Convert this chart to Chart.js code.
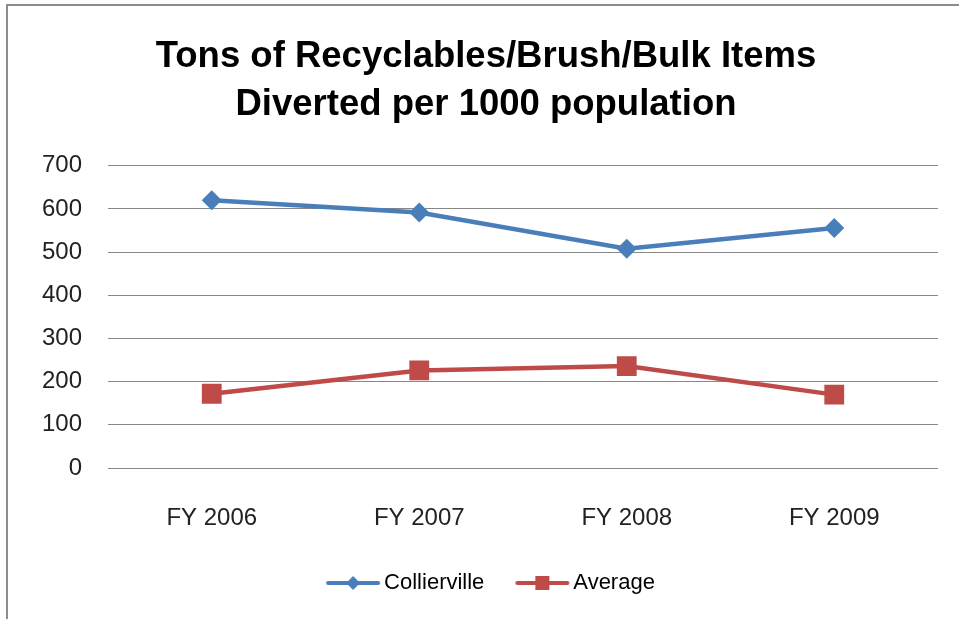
<!DOCTYPE html>
<html>
<head>
<meta charset="utf-8">
<script src="https://cdn.jsdelivr.net/npm/chart.js@4/dist/chart.umd.min.js"></script>
<style>
  html, body { margin: 0; padding: 0; background: #fff; }
  #wrap { position: relative; width: 959px; height: 619px; overflow: hidden; }
  #frame {
    position: absolute; left: 6px; top: 4px; width: 1000px; height: 700px;
    border-top: 2px solid #8c8c8c; border-left: 2px solid #8c8c8c;
    pointer-events: none;
  }
  canvas { position: absolute; left: 0; top: 0; }
</style>
</head>
<body>
<div id="wrap">
  <canvas id="chart" width="959" height="619"></canvas>
  <div id="frame"></div>
</div>
<script>
const years = ["FY 2006", "FY 2007", "FY 2008", "FY 2009"];
const collierville = [620, 592, 508, 556];
const average = [172, 226, 236, 170];
const titleLines = ["Tons of Recyclables/Brush/Bulk Items", "Diverted per 1000 population"];

const blue = '#4A7EBB';
const red = '#BE4B48';

// little legend icons: line with the marker in the middle
function legendIcon(color, shape) {
  const c = document.createElement('canvas');
  c.width = 62;
  c.height = 20;
  const ctx = c.getContext('2d');
  ctx.strokeStyle = color;
  ctx.lineWidth = 4;
  ctx.lineCap = 'round';
  ctx.beginPath();
  ctx.moveTo(6, 10);
  ctx.lineTo(56, 10);
  ctx.stroke();
  ctx.fillStyle = color;
  ctx.beginPath();
  if (shape === 'diamond') {
    ctx.moveTo(31, 3); ctx.lineTo(38, 10); ctx.lineTo(31, 17); ctx.lineTo(24, 10);
  } else {
    ctx.rect(24, 3, 14, 14);
  }
  ctx.closePath();
  ctx.fill();
  return c;
}

const icons = [legendIcon(blue, 'diamond'), legendIcon(red, 'square')];

// nudge the legend a bit to the right, like the original
const legendShift = {
  id: 'legendShift',
  afterLayout(chart) {
    chart.legend.left += 8;
    chart.legend.right += 8;
  }
};

new Chart(document.getElementById('chart').getContext('2d'), {
  type: 'line',
  data: {
    labels: years,
    datasets: [{
      label: 'Collierville',
      data: collierville,
      borderColor: blue,
      backgroundColor: blue,
      borderWidth: 4.5,
      pointStyle: 'rectRot',
      pointRadius: 10,
      pointBorderWidth: 0,
      tension: 0
    }, {
      label: 'Average',
      data: average,
      borderColor: red,
      backgroundColor: red,
      borderWidth: 4.5,
      pointStyle: 'rect',
      pointRadius: 14,
      pointBorderWidth: 0,
      tension: 0
    }]
  },
  options: {
    responsive: false,
    animation: false,
    layout: { padding: { left: 34, right: 21, top: 7, bottom: 15 } },
    scales: {
      x: {
        offset: true,
        afterFit: (scale) => { scale.height = 66; },
        grid: { display: false, drawTicks: false },
        border: { display: false },
        ticks: {
          padding: 36,
          color: '#222',
          font: { family: 'Liberation Sans', size: 24 }
        }
      },
      y: {
        min: 0,
        max: 700,
        afterFit: (scale) => { scale.width = 74; },
        grid: { color: '#888888', lineWidth: 1, drawTicks: false },
        border: { display: false },
        ticks: {
          stepSize: 100,
          padding: 26,
          color: '#222',
          font: { family: 'Liberation Sans', size: 24 }
        }
      }
    },
    plugins: {
      title: {
        display: true,
        text: titleLines,
        color: '#000',
        font: { family: 'Liberation Sans', size: 36.5, weight: 'bold', lineHeight: 1.34 },
        padding: { top: 25, bottom: 36 }
      },
      legend: {
        position: 'bottom',
        labels: {
          usePointStyle: true,
          pointStyleWidth: 40,
          padding: 38,
          color: '#222',
          font: { family: 'Liberation Sans', size: 22 },
          generateLabels: (chart) => chart.data.datasets.map((ds, i) => ({
            text: ds.label,
            pointStyle: icons[i],
            fillStyle: ds.borderColor,
            strokeStyle: ds.borderColor,
            lineWidth: 0,
            hidden: false,
            datasetIndex: i
          }))
        }
      },
      tooltip: { enabled: false }
    }
  },
  plugins: [legendShift]
});
</script>
</body>
</html>
